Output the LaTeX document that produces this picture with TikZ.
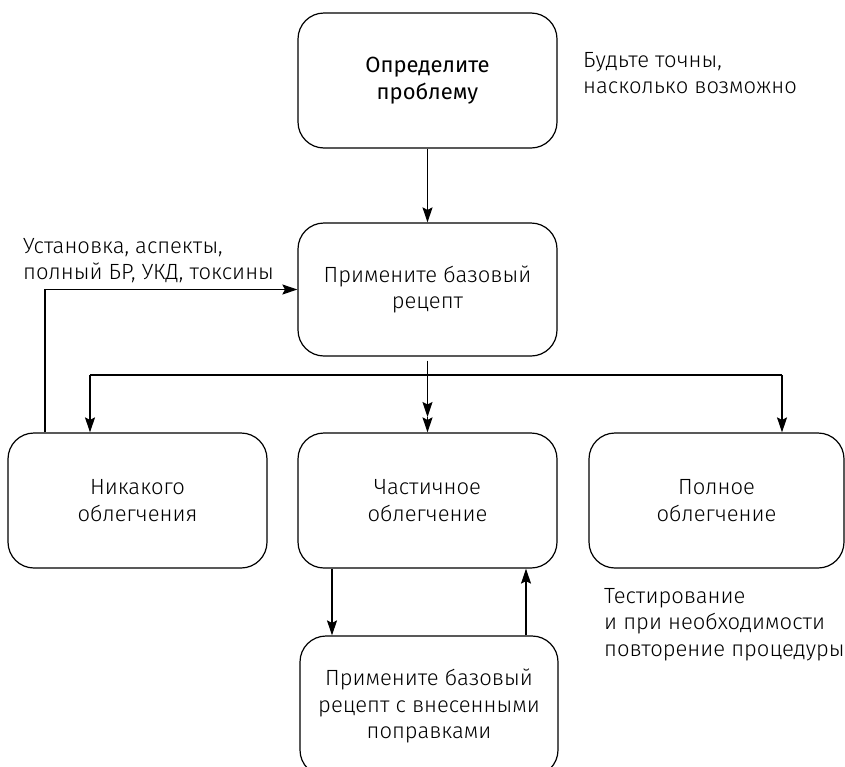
\documentclass[tikz,border=0pt]{standalone}
\usepackage{fontspec}
\setmainfont{Fira Sans Light}
\newfontfamily\regfont{Fira Sans}
\usetikzlibrary{arrows.meta}
\tikzset{
  box/.style={draw, line width=1.2pt, rounded corners=26pt, minimum width=259pt, minimum height=135pt, inner sep=0pt, align=center, font=\fontsize{22}{26.5}\selectfont},
  conn/.style={line width=1.2pt},
  arr/.style={conn, -{Stealth[length=15pt,width=10pt,inset=2.5pt]}},
  note/.style={align=left, anchor=north west, inner sep=0pt, font=\fontsize{22}{26.5}\selectfont}
}
\begin{document}
\begin{tikzpicture}[x=1pt,y=-1pt]
\useasboundingbox (0,0) rectangle (845,766);
\node[box, font=\regfont\fontsize{22}{26.5}\selectfont] (top) at (427.5,80.5) {Определите\\проблему};
\node[box, minimum height=133pt] (mid) at (427.5,289.5) {Примените базовый\\рецепт};
\node[box] (left) at (137.5,500.5) {Никакого\\облегчения};
\node[box] (part) at (427.5,500.5) {Частичное\\облегчение};
\node[box, minimum width=255pt] (full) at (716.5,500.5) {Полное\\облегчение};
\node[box, minimum width=258pt, minimum height=140pt] (bot) at (429,706) {Примените базовый\\рецепт с внесенными\\поправками};

\node[note] (n1) at (583,52) {Будьте точны,\\насколько возможно};
\node[note] (n2) at (23,238) {Установка, аспекты,\\полный БР, УКД, токсины};
\node[note] (n3) at (604,588) {Тестирование\\и при необходимости\\повторение процедуры};

\coordinate (hl) at (90,375);
\coordinate (hr) at (782,375);
\coordinate (mk) at (427.5,417);

\draw[arr] (top.south) -- (mid.north);
\draw[arr] ([xshift=-92.5pt]left.north) |- (mid.west);
\draw[conn] (hl) -- (hr);
\draw[arr] (hl) -- (hl |- left.north);
\draw[arr] (hr) -- (hr |- full.north);
\draw[arr] ([yshift=-4pt]mid.south) -- (mk);
\draw[arr] (mk) -- (part.north);
\draw[arr] ([xshift=-95.5pt]part.south) -- ([xshift=-97pt]bot.north);
\draw[arr] ([xshift=97pt]bot.north) -- ([xshift=98.5pt]part.south);
\end{tikzpicture}
\end{document}
